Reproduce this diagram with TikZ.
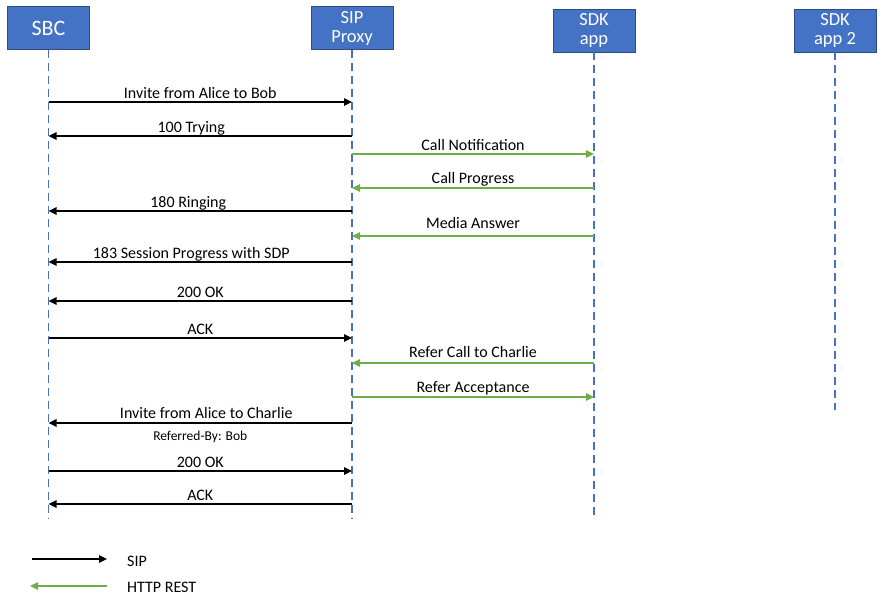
\documentclass[tikz,border=0pt]{standalone}
\usepackage{fontspec}
\setmainfont{Carlito}
\usetikzlibrary{arrows.meta}

\definecolor{boxblue}{HTML}{4472C4}
\definecolor{boxline}{HTML}{2F4A80}
\definecolor{restgreen}{HTML}{70AD47}

\tikzset{
    actor/.style={rectangle, draw=boxline, line width=0.8pt, fill=boxblue, text=white, minimum width=82pt, minimum height=43pt, align=center, inner sep=0pt, font=\fontsize{18.5}{19}\selectfont},
    life/.style={boxblue, line width=1.8pt, dash pattern=on 8pt off 5pt},
    sip/.style={-{Triangle[length=8pt,width=7.5pt]}, line width=1.3pt, black},
    rest/.style={-{Triangle[length=8pt,width=7.5pt]}, line width=1.3pt, restgreen},
    msg/.style={above, font=\fontsize{16}{18}\selectfont, text=black, inner sep=1pt, text depth=2pt},
    note/.style={below, font=\fontsize{13.5}{15}\selectfont, text=black, inner sep=1pt},
    legend/.style={anchor=west, font=\fontsize{16}{18}\selectfont, inner sep=0pt}
}

\begin{document}
\begin{tikzpicture}[x=1pt, y=-1pt]
    \useasboundingbox (0,0) rectangle (885,604);

    \node[actor, font=\fontsize{22}{24}\selectfont] (sbc) at (48.5,28) {SBC};
    \node[actor] (proxy) at (352,28) {SIP\\Proxy};
    \node[actor] (sdk) at (594,30.5) {SDK\\app};
    \node[actor] (sdktwo) at (835,30.5) {SDK\\app 2};

    \coordinate (sbcend) at (48.5,518);
    \coordinate (proxyend) at (352,518);
    \coordinate (sdkend) at (594,518);
    \coordinate (sdktwoend) at (835,410);
    \draw[life] (sbc) -- (sbcend);
    \draw[life] (proxy) -- (proxyend);
    \draw[life] (sdk) -- (sdkend);
    \draw[life] (sdktwo) -- (sdktwoend);

    \draw[sip] (sbc |- 0,102) -- (proxy |- 0,102) node[midway, msg] {Invite from Alice to Bob};
    \draw[sip] (proxy |- 0,136) -- (sbc |- 0,136) node[midway, msg, xshift=-9pt] {100 Trying};
    \draw[rest] (proxy |- 0,154) -- (sdk |- 0,154) node[midway, msg] {Call Notification};
    \draw[rest] (sdk |- 0,188) -- (proxy |- 0,188) node[midway, msg, yshift=1pt] {Call Progress};
    \draw[sip] (proxy |- 0,211) -- (sbc |- 0,211) node[midway, msg, xshift=-12pt] {180 Ringing};
    \draw[rest] (sdk |- 0,236) -- (proxy |- 0,236) node[midway, msg, yshift=4pt] {Media Answer};
    \draw[sip] (proxy |- 0,262) -- (sbc |- 0,262) node[midway, msg, xshift=-9pt] {183 Session Progress with SDP};
    \draw[sip] (proxy |- 0,301) -- (sbc |- 0,301) node[midway, msg] {200 OK};
    \draw[sip] (sbc |- 0,338) -- (proxy |- 0,338) node[midway, msg] {ACK};
    \draw[rest] (sdk |- 0,363) -- (proxy |- 0,363) node[midway, msg, yshift=2pt] {Refer Call to Charlie};
    \draw[rest] (proxy |- 0,397) -- (sdk |- 0,397) node[midway, msg, yshift=1pt] {Refer Acceptance};
    \draw[sip] (proxy |- 0,423) -- (sbc |- 0,423) node[midway, msg, xshift=6pt, yshift=1pt] {Invite from Alice to Charlie}
        node[midway, note, below=6pt] {Referred-By: Bob};
    \draw[sip] (sbc |- 0,471) -- (proxy |- 0,471) node[midway, msg] {200 OK};
    \draw[sip] (proxy |- 0,504) -- (sbc |- 0,504) node[midway, msg] {ACK};

    \coordinate (sipa) at (32,559);
    \coordinate (sipb) at (107,559);
    \coordinate (resta) at (107,586);
    \coordinate (restb) at (30,586);
    \draw[sip] (sipa) -- (sipb);
    \draw[rest] (resta) -- (restb);
    \node[legend] (siplabel) at (127,561) {SIP};
    \node[legend] (restlabel) at (127,587) {HTTP REST};
\end{tikzpicture}
\end{document}
